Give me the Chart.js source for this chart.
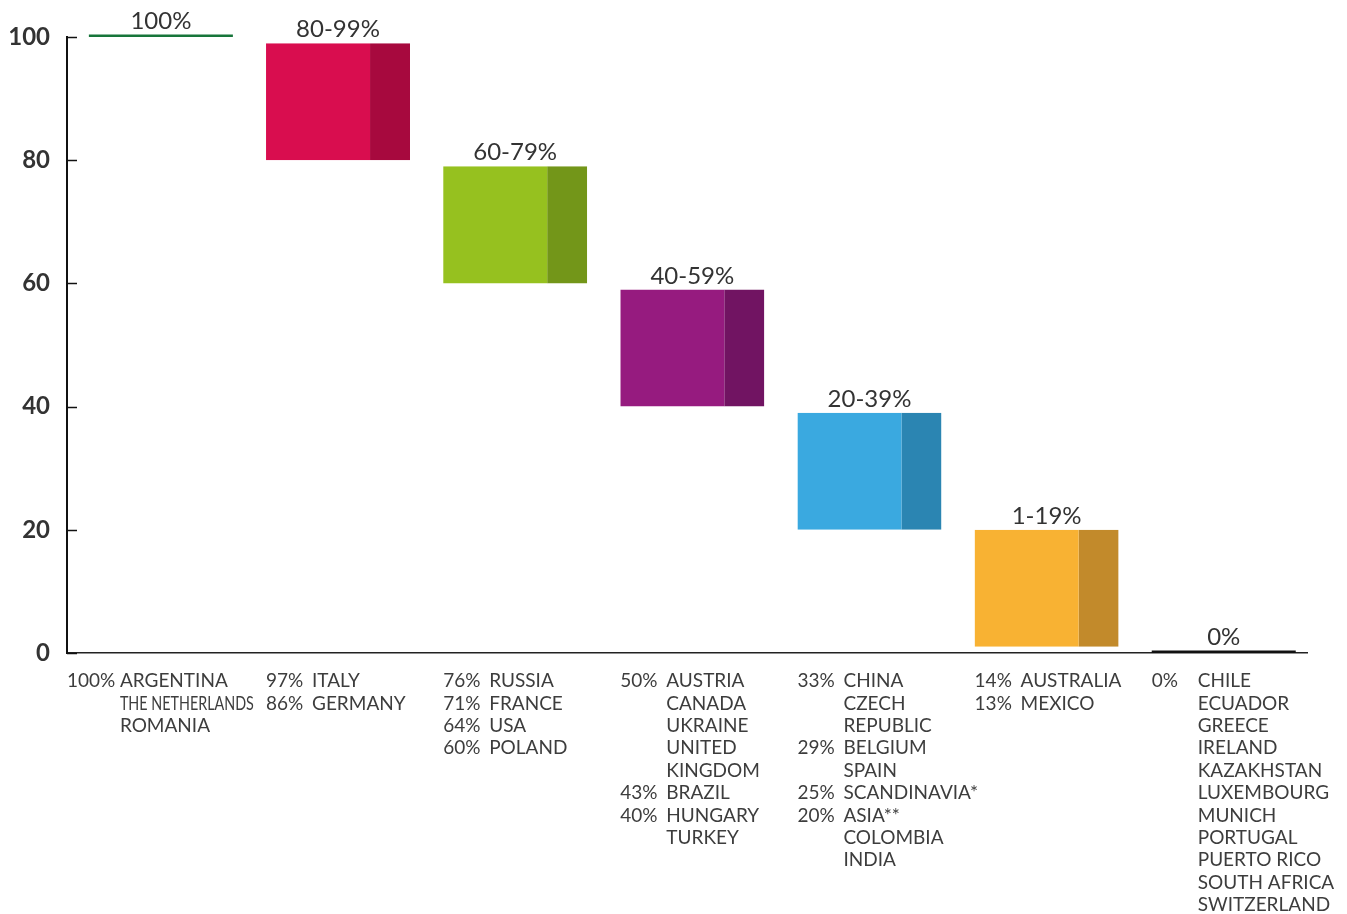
<!DOCTYPE html>
<html>
<head>
<meta charset="utf-8">
<script src="https://cdn.jsdelivr.net/npm/chart.js@4"></script>
<style>
  html, body { margin: 0; padding: 0; background: #fff; }
</style>
</head>
<body>
<canvas id="rangeChart" width="1347" height="914"></canvas>
<script>
  // share bands (category labels) and the span each bar covers
  const categories = ["100%", "80-99%", "60-79%", "40-59%", "20-39%", "1-19%", "0%"];
  const rangeLow = [100, 80, 60, 40, 20, 1, 0];
  const rangeHigh = [100, 99, 79, 59, 39, 20, 0];
  const yTicks = [0, 20, 40, 60, 80, 100];

  // country lists under each band: [share, name] per text line
  const countryRows = [
    [["100%", "ARGENTINA"], ["", "THE NETHERLANDS"], ["", "ROMANIA"]],
    [["97%", "ITALY"], ["86%", "GERMANY"]],
    [["76%", "RUSSIA"], ["71%", "FRANCE"], ["64%", "USA"], ["60%", "POLAND"]],
    [["50%", "AUSTRIA"], ["", "CANADA"], ["", "UKRAINE"], ["", "UNITED"], ["", "KINGDOM"],
     ["43%", "BRAZIL"], ["40%", "HUNGARY"], ["", "TURKEY"]],
    [["33%", "CHINA"], ["", "CZECH"], ["", "REPUBLIC"], ["29%", "BELGIUM"], ["", "SPAIN"],
     ["25%", "SCANDINAVIA*"], ["20%", "ASIA**"], ["", "COLOMBIA"], ["", "INDIA"]],
    [["14%", "AUSTRALIA"], ["13%", "MEXICO"]],
    [["0%", "CHILE"], ["", "ECUADOR"], ["", "GREECE"], ["", "IRELAND"], ["", "KAZAKHSTAN"],
     ["", "LUXEMBOURG"], ["", "MUNICH"], ["", "PORTUGAL"], ["", "PUERTO RICO"],
     ["", "SOUTH AFRICA"], ["", "SWITZERLAND"]]
  ];

  const fillColors = ["#17753a", "#d90d4f", "#96c11f", "#961b7f", "#3aa9e0", "#f8b233", "#111111"];
  const edgeColors = ["#17753a", "#a7093e", "#739619", "#711462", "#2b85b2", "#c28a2b", "#111111"];

  const FONT = "Lato, 'Noto Sans', sans-serif";
  const TEXT = "#3d3d3d";

  // small tick marks pointing into the plot
  const innerTicks = {
    id: "innerTicks",
    afterDraw(chart) {
      const y = chart.scales.y;
      const ctx = chart.ctx;
      ctx.save();
      ctx.strokeStyle = "#111";
      ctx.lineWidth = 1.5;
      y.ticks.forEach(t => {
        const py = Math.round(y.getPixelForValue(t.value)) + 0.5;
        ctx.beginPath();
        ctx.moveTo(chart.chartArea.left, py);
        ctx.lineTo(chart.chartArea.left + 10, py);
        ctx.stroke();
      });
      ctx.restore();
    }
  };

  // band label above every bar
  const bandLabels = {
    id: "bandLabels",
    afterDatasetsDraw(chart) {
      const ctx = chart.ctx;
      const meta = chart.getDatasetMeta(0);
      ctx.save();
      ctx.font = "24px " + FONT;
      ctx.fillStyle = "#333";
      ctx.textAlign = "center";
      ctx.textBaseline = "alphabetic";
      meta.data.forEach((bar, i) => {
        const top = Math.min(bar.y, bar.base);
        ctx.fillText(categories[i], bar.x, top - 6);
      });
      ctx.restore();
    }
  };

  // country lists below the axis
  const countryLists = {
    id: "countryLists",
    afterDraw(chart) {
      const ctx = chart.ctx;
      const meta = chart.getDatasetMeta(0);
      const bottom = chart.chartArea.bottom;
      ctx.save();
      ctx.font = "19px " + FONT;
      ctx.fillStyle = TEXT;
      ctx.textBaseline = "middle";
      ctx.textAlign = "left";
      meta.data.forEach((bar, i) => {
        const left = bar.x - bar.width / 2;
        const pctX = i === 0 ? left - 22 : left;
        const nameX = i === 0 ? left + 31 : left + 46;
        countryRows[i].forEach((row, r) => {
          const y = bottom + 28 + r * 22.4;
          if (row[0]) ctx.fillText(row[0], pctX, y);
          if (i === 0) {
            ctx.fillText(row[1], nameX, y, 134);
          } else {
            ctx.fillText(row[1], nameX, y);
          }
        });
      });
      ctx.restore();
    }
  };

  new Chart(document.getElementById("rangeChart"), {
    type: "bar",
    data: {
      datasets: [{
        data: categories.map((c, i) => ({ x: i, y: [rangeLow[i], rangeHigh[i]] })),
        backgroundColor: fillColors,
        borderColor: edgeColors,
        borderWidth: ctx => rangeLow[ctx.dataIndex] === rangeHigh[ctx.dataIndex]
          ? 0 : { top: 0, right: 40, bottom: 0, left: 0 },
        borderSkipped: false,
        minBarLength: 2.5,
        clip: false,
        categoryPercentage: 1,
        barPercentage: 0.813
      }]
    },
    options: {
      responsive: false,
      animation: false,
      devicePixelRatio: 1,
      layout: { padding: { left: 10, right: 40, top: 37, bottom: 261 } },
      plugins: {
        legend: { display: false },
        tooltip: { enabled: false }
      },
      scales: {
        x: {
          type: "linear",
          offset: false,
          min: -0.53,
          max: 6.47,
          afterBuildTicks: axis => { axis.ticks = categories.map((c, i) => ({ value: i })); },
          grid: { display: false, drawTicks: false },
          ticks: { display: false },
          border: { display: true, color: "#222", width: 1.5 }
        },
        y: {
          min: 0,
          max: 100,
          afterBuildTicks: axis => { axis.ticks = yTicks.map(v => ({ value: v })); },
          afterFit: axis => { axis.width = 57; },
          grid: { display: false, drawTicks: false },
          border: { display: true, color: "#111", width: 2 },
          ticks: {
            padding: 17,
            color: "#333",
            font: { family: FONT, size: 24, weight: "bold" }
          }
        }
      }
    },
    plugins: [innerTicks, bandLabels, countryLists]
  });
</script>
</body>
</html>
